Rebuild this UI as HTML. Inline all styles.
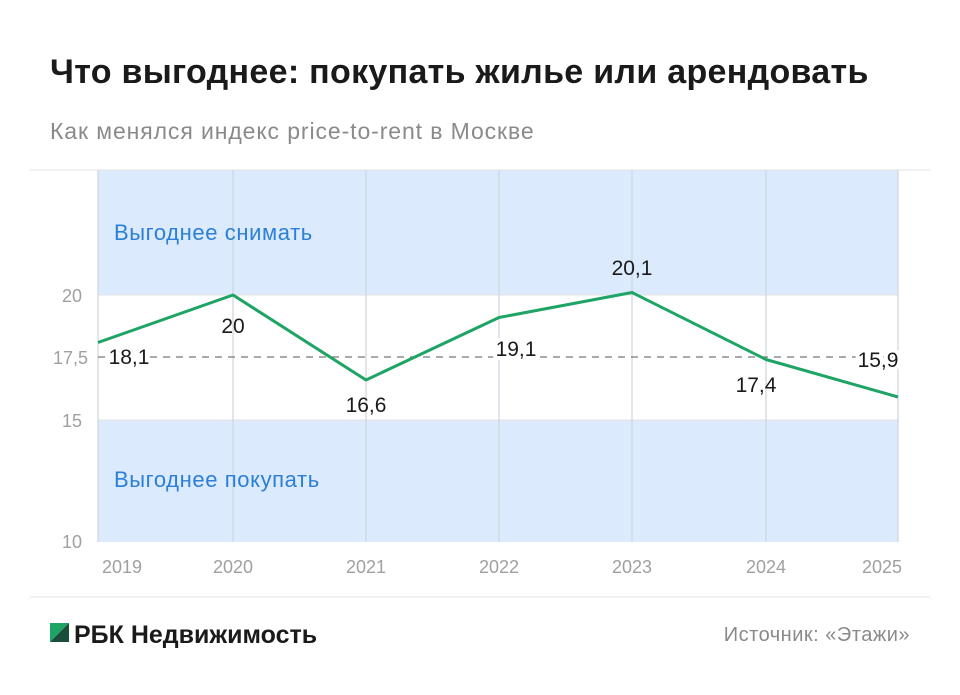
<!DOCTYPE html><html><head><meta charset="utf-8"><style>
body{margin:0;width:960px;height:695px;background:#fff;font-family:"Liberation Sans",sans-serif;overflow:hidden;position:relative}
.t{position:absolute;white-space:nowrap}
</style></head><body>
<div class="t" style="left:50px;top:53px;font-size:34px;font-weight:bold;color:#1a1a1a;letter-spacing:0.3px">Что выгоднее: покупать жилье или арендовать</div>
<div class="t" style="left:50px;top:118px;font-size:23px;color:#8a8a8a;letter-spacing:0.9px">Как менялся индекс price-to-rent в Москве</div>
<svg width="960" height="695" style="position:absolute;left:0;top:0" font-family="Liberation Sans, sans-serif">
<rect x="98" y="170" width="800" height="125" fill="#dbeafd"/>
<rect x="98" y="420" width="800" height="122" fill="#dbeafd"/>
<line x1="30" y1="170" x2="930" y2="170" stroke="#e3e3e3"/>
<line x1="98" y1="295" x2="898" y2="295" stroke="#e3e3e3"/>
<line x1="98" y1="420" x2="898" y2="420" stroke="#e3e3e3"/>
<g stroke="#cfd6de" stroke-width="1.2">
<line x1="98" y1="170" x2="98" y2="542"/><line x1="233" y1="170" x2="233" y2="542"/><line x1="366" y1="170" x2="366" y2="542"/><line x1="499" y1="170" x2="499" y2="542"/><line x1="632" y1="170" x2="632" y2="542"/><line x1="766" y1="170" x2="766" y2="542"/><line x1="898" y1="170" x2="898" y2="542"/>
</g>
<line x1="98" y1="357" x2="898" y2="357" stroke="#777" stroke-dasharray="7,6" stroke-width="1.2"/>
<line x1="30" y1="597" x2="930" y2="597" stroke="#e3e3e3"/>
<polyline points="98,342.5 233,295 366,380 499,317.5 632,292.5 766,359.5 898,397" fill="none" stroke="#1ea464" stroke-width="3" stroke-linejoin="round"/>
<g font-size="18" fill="#a0a0a0" text-anchor="end">
<text x="82" y="302">20</text><text x="88" y="364">17,5</text><text x="82" y="427">15</text><text x="82" y="548">10</text></g>
<g font-size="18" fill="#a0a0a0" text-anchor="middle">
<text x="122" y="573">2019</text><text x="233" y="573">2020</text><text x="366" y="573">2021</text><text x="499" y="573">2022</text><text x="632" y="573">2023</text><text x="766" y="573">2024</text><text x="882" y="573">2025</text></g>
<g font-size="21" fill="#1a1a1a" text-anchor="middle">
<text x="129" y="364" stroke="#fff" stroke-width="8" paint-order="stroke">18,1</text>
<text x="233" y="333">20</text>
<text x="366" y="412">16,6</text>
<text x="516" y="356" stroke="#fff" stroke-width="8" paint-order="stroke">19,1</text>
<text x="632" y="275">20,1</text>
<text x="756" y="392">17,4</text>
<text x="878" y="367" stroke="#fff" stroke-width="8" paint-order="stroke">15,9</text></g>
<text x="114" y="240" font-size="22" fill="#2b7fd8" letter-spacing="0.6">Выгоднее снимать</text>
<text x="114" y="487" font-size="22" fill="#2b7fd8" letter-spacing="0.6">Выгоднее покупать</text>
<polygon points="50,623 69,623 50,642" fill="#1ea464"/><polygon points="69,623 69,642 50,642" fill="#1a4d3a"/>
<text x="74" y="643" font-size="25" font-weight="bold" fill="#1a1a1a">РБК Недвижимость</text>
<text x="910" y="641" font-size="20" fill="#8a8a8a" text-anchor="end" letter-spacing="0.5">Источник: «Этажи»</text>
</svg>
</body></html>
